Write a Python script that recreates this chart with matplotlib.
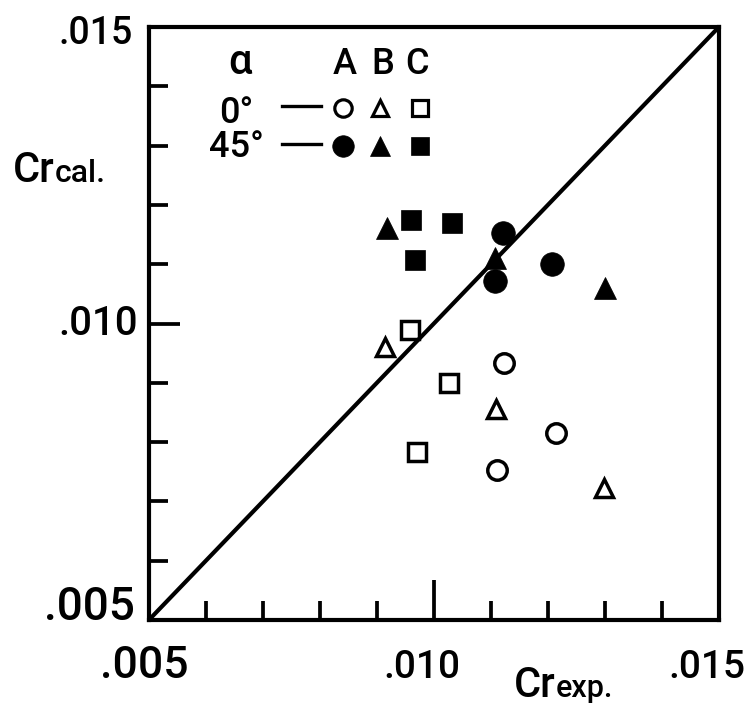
import numpy as np
import matplotlib
matplotlib.use("Agg")
import matplotlib.pyplot as plt
from matplotlib.ticker import MultipleLocator

plt.rcParams['font.family'] = ['Roboto', 'DejaVu Sans']
plt.rcParams['font.weight'] = 'medium'

# Cr exp. / Cr cal., models A, B, C at alpha = 0 and 45 deg
a0_exp = [0.01123, 0.01214, 0.01110]
a0_cal = [0.00934, 0.00815, 0.00753]
b0_exp = [0.00915, 0.01109, 0.01298]
b0_cal = [0.00960, 0.00856, 0.00723]
c0_exp = [0.00958, 0.01026, 0.00970]
c0_cal = [0.00989, 0.00900, 0.00783]
a45_exp = [0.01121, 0.01108, 0.01207]
a45_cal = [0.01152, 0.01072, 0.01100]
b45_exp = [0.00917, 0.01108, 0.01300]
b45_cal = [0.01161, 0.01110, 0.01060]
c45_exp = [0.00959, 0.01031, 0.00967]
c45_cal = [0.01175, 0.01169, 0.01107]

axis_range = [0.005, 0.015]
major_ticks = [0.005, 0.010, 0.015]
tick_labels = [".005", ".010", ".015"]
columns = ["A", "B", "C"]
angles = ["0°", "45°"]

# styles
marker_of = {"A": "o", "B": "^", "C": "s"}
open_size = {"o": 14, "^": 13.5, "s": 13}
filled_size = {"o": 17, "^": 16, "s": 14.5}
xlab_size = [32, 28, 28]
xlab_dx = [-3.5, -9, -9]
ylab_size = [33, 29, 27]
ylab_dx = [-10, -8, -11.5]
ylab_dy = [0, -8, -12]

fig = plt.figure(figsize=(7.52, 7.11), dpi=100)
ax = fig.add_axes([0.198, 0.128, 0.758, 0.834])
ax.set_xlim(axis_range)
ax.set_ylim(axis_range)

for sp in ax.spines.values():
    sp.set_linewidth(3)

ax.set_xticks(major_ticks)
ax.set_yticks(major_ticks)
ax.xaxis.set_minor_locator(MultipleLocator(0.001))
ax.yaxis.set_minor_locator(MultipleLocator(0.001))
ax.tick_params(which='both', direction='in', width=2.7, labelbottom=False, labelleft=False)
ax.tick_params(which='minor', length=14)
ax.tick_params(axis='x', which='major', length=29)
ax.tick_params(axis='y', which='major', length=22)

# y = x line
ax.plot(axis_range, axis_range, color='black', lw=3, zorder=3, solid_capstyle='butt')

groups = [
    ("A", a0_exp, a0_cal, False), ("B", b0_exp, b0_cal, False), ("C", c0_exp, c0_cal, False),
    ("A", a45_exp, a45_cal, True), ("B", b45_exp, b45_cal, True), ("C", c45_exp, c45_cal, True),
]
for name, xs, ys, filled in groups:
    m = marker_of[name]
    if filled:
        ax.plot(xs, ys, ls='none', marker=m, ms=filled_size[m], mfc='black', mec='black', mew=0.5, zorder=2)
    else:
        ax.plot(xs, ys, ls='none', marker=m, ms=open_size[m], mfc='white', mec='black', mew=2.5, zorder=2)

# tick labels
for v, lab, fs, dx in zip(major_ticks, tick_labels, xlab_size, xlab_dx):
    ax.annotate(lab, xy=(v, 0), xycoords=('data', 'axes fraction'), xytext=(dx, -42),
                textcoords='offset points', ha='center', va='baseline', fontsize=fs, annotation_clip=False)
for v, lab, fs, dx, dy in zip(major_ticks, tick_labels, ylab_size, ylab_dx, ylab_dy):
    ax.annotate(lab, xy=(0, v), xycoords=('axes fraction', 'data'), xytext=(dx, dy),
                textcoords='offset points', ha='right', va='baseline', fontsize=fs, annotation_clip=False)

# axis titles
ax.text(-0.2386, 0.7386, "Cr", transform=ax.transAxes, fontsize=30, ha='left', va='baseline')
ax.text(-0.166, 0.7386, "cal.", transform=ax.transAxes, fontsize=23, ha='left', va='baseline')
ax.text(0.640, -0.130, "Cr", transform=ax.transAxes, fontsize=30, ha='left', va='baseline')
ax.text(0.713, -0.130, "exp.", transform=ax.transAxes, fontsize=22, ha='left', va='baseline')

# key in the upper left corner
t = ax.transAxes
ax.text(0.160, 0.921, "α", transform=t, fontsize=30, ha='center', va='baseline')
col_x = [0.340, 0.405, 0.475]
for name, fx in zip(columns, [0.344, 0.411, 0.470]):
    ax.text(fx, 0.921, name, transform=t, fontsize=26, ha='center', va='baseline')
for angle, fy_txt, fy_mk, filled in zip(angles, [0.838, 0.781], [0.863, 0.799], [False, True]):
    ax.text(0.153, fy_txt, angle, transform=t, fontsize=26, ha='center', va='baseline')
    ax.plot([0.233, 0.302], [fy_mk + 0.003, fy_mk + 0.003], transform=t, color='black', lw=2.4)
    for name, fx in zip(columns, col_x):
        m = marker_of[name]
        if filled:
            ax.plot(fx, fy_mk, transform=t, marker=m, ms=filled_size[m] - 1.5, mfc='black', mec='black', mew=0.5)
        else:
            ax.plot(fx, fy_mk, transform=t, marker=m, ms=open_size[m] - 1.5, mfc='white', mec='black', mew=2.3)

fig.savefig("out.png", dpi=100)
